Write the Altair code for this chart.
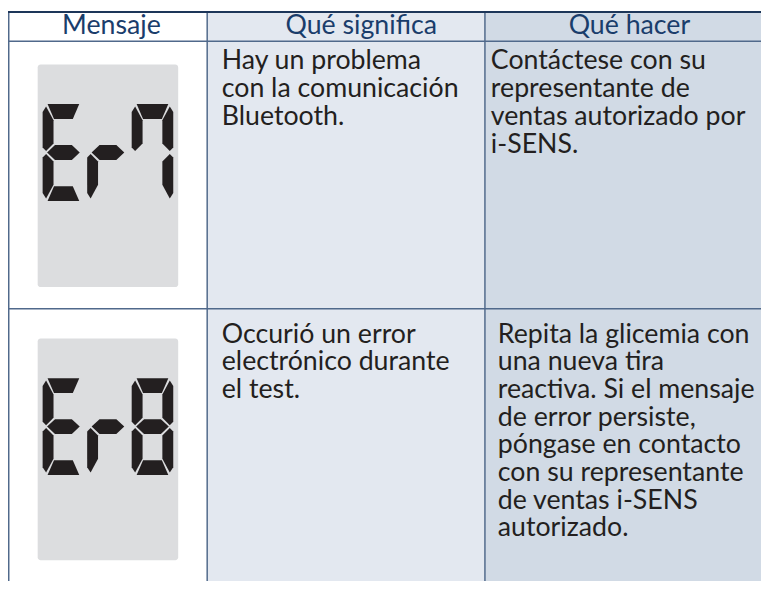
import altair as alt
import pandas as pd

# ---------------- data ----------------
headers = ["Mensaje", "Qué significa", "Qué hacer"]
codes = ["Er7", "Er8"]
meanings = [
    ["Hay un problema", "con la comunicación", "Bluetooth."],
    ["Occurió un error", "electrónico durante", "el test."],
]
actions = [
    ["Contáctese con su", "representante de", "ventas autorizado por", "i-SENS."],
    ["Repita la glicemia con", "una nueva tira", "reactiva. Si el mensaje",
     "de error persiste,", "póngase en contacto", "con su representante",
     "de ventas i-SENS", "autorizado."],
]
# segments lit on this LCD for each character
glyph_segments = {"E": "adefg", "r": "eg", "7": "abcf", "8": "abcdefg"}

# ---------------- layout / style ----------------
X_MIN, X_MAX, Y_MIN, Y_MAX = 8, 769, 8, 584
col_edges = [8.75, 209.3, 490, 769]
col_fill = ["#ffffff", "#e3e8f0", "#d1dae5"]
header_bottom = 38.5
row_divider = 309
header_x = [112.5, 365, 636]
header_base = 31
meaning_x = [224, 224]
action_x = [496, 503]
first_base = [67, 343]
pitch = 28
box_x = (38, 180)
box_y = [(62, 287), (339, 563)]
digit_left, digit_pitch, digit_drop = 43, 45, 40
FONT = "Lato"
FS = 27
HEADER_COLOR = "#1a3d6b"
TEXT_COLOR = "#231f20"
LINE_COLOR = "#50698b"

seg_paths = {
    "a": "M5,0L37,0L30.5,15L11.5,15Z",
    "b": "M38.5,2.5L42,8L42,44L38.5,47.5L31,40L31,16.5Z",
    "c": "M38.5,50.5L42,54L42,90L38.5,95.5L31,81.5L31,58Z",
    "d": "M5,98L37,98L30.5,83L11.5,83Z",
    "e": "M3.5,50.5L11,58L11,81.5L3.5,95.5L0,90L0,54Z",
    "f": "M3.5,2.5L11,16.5L11,40L3.5,47.5L0,44L0,8Z",
    "g": "M4.5,49L12.5,41.5L29.5,41.5L37.5,49L29.5,56.5L12.5,56.5Z",
}

xs = alt.Scale(domain=[X_MIN, X_MAX], nice=False, zero=False)
ys = alt.Scale(domain=[Y_MIN, Y_MAX], nice=False, zero=False, reverse=True)


def X(f="x"):
    return alt.X(f"{f}:Q", scale=xs, axis=None)


def Y(f="y"):
    return alt.Y(f"{f}:Q", scale=ys, axis=None)


# backgrounds
bg_df = pd.DataFrame({
    "x": col_edges[:-1], "x2": col_edges[1:],
    "y": [Y_MIN] * 3, "y2": [Y_MAX] * 3, "fill": col_fill,
})
bg = alt.Chart(bg_df).mark_rect(strokeWidth=0).encode(
    x=X(), x2="x2:Q", y=Y(), y2="y2:Q",
    color=alt.Color("fill:N", scale=None),
)

# LCD boxes
box_df = pd.DataFrame({
    "x": [box_x[0]] * 2, "x2": [box_x[1]] * 2,
    "y": [b[0] for b in box_y], "y2": [b[1] for b in box_y],
})
boxes = alt.Chart(box_df).mark_rect(color="#dcdddf", cornerRadius=3).encode(
    x=X(), x2="x2:Q", y=Y(), y2="y2:Q"
)

# grid lines
vlines = pd.DataFrame({"x": col_edges[:-1], "x2": col_edges[:-1],
                       "y": [Y_MIN] * 3, "y2": [Y_MAX] * 3})
hlines = pd.DataFrame({"x": [X_MIN] * 2, "x2": [X_MAX] * 2,
                       "y": [header_bottom, row_divider],
                       "y2": [header_bottom, row_divider]})
vr = alt.Chart(vlines).mark_rule(color=LINE_COLOR, strokeWidth=1.5).encode(
    x=X(), x2="x2:Q", y=Y(), y2="y2:Q")
hr = alt.Chart(hlines).mark_rule(color=LINE_COLOR, strokeWidth=1.5).encode(
    x=X(), x2="x2:Q", y=Y(), y2="y2:Q")
top_df = pd.DataFrame({"x": [X_MIN], "x2": [X_MAX], "y": [9], "y2": [9]})
top = alt.Chart(top_df).mark_rule(color="#1d3659", strokeWidth=2).encode(
    x=X(), x2="x2:Q", y=Y(), y2="y2:Q")

# header text
hdr_df = pd.DataFrame({"x": header_x, "y": [header_base] * 3, "t": headers})
hdr = alt.Chart(hdr_df).mark_text(
    align="center", baseline="alphabetic", font=FONT, fontSize=FS,
    color=HEADER_COLOR,
).encode(x=X(), y=Y(), text="t:N")

# body text: one multi-line text per cell
cells = []
for r in range(len(codes)):
    cells.append({"x": meaning_x[r], "y": first_base[r], "t": "\n".join(meanings[r])})
    cells.append({"x": action_x[r], "y": first_base[r], "t": "\n".join(actions[r])})
body = alt.Chart(pd.DataFrame(cells)).mark_text(
    align="left", baseline="alphabetic", font=FONT, fontSize=FS,
    color=TEXT_COLOR, lineBreak="\n", lineHeight=pitch,
).encode(x=X(), y=Y(), text="t:N")

# seven-segment digits
segs = []
for r, code in enumerate(codes):
    for k, ch in enumerate(code):
        for s in glyph_segments[ch]:
            segs.append({"x": digit_left + k * digit_pitch,
                         "y": box_y[r][0] + digit_drop, "seg": s})
seg_keys = list("abcdefg")
digits = alt.Chart(pd.DataFrame(segs)).mark_point(
    filled=True, size=4, opacity=1, color="#231f20", strokeWidth=0,
).encode(
    x=X(), y=Y(),
    shape=alt.Shape("seg:N", scale=alt.Scale(domain=seg_keys,
                                             range=[seg_paths[k] for k in seg_keys]),
                    legend=None),
)

chart = alt.layer(bg, boxes, digits, vr, hr, top, hdr, body).properties(
    width=X_MAX - X_MIN, height=Y_MAX - Y_MIN, padding=0, autosize="none",
).configure_view(stroke=None)

chart.save("out.html", embed_options={"renderer": "svg", "actions": False})
